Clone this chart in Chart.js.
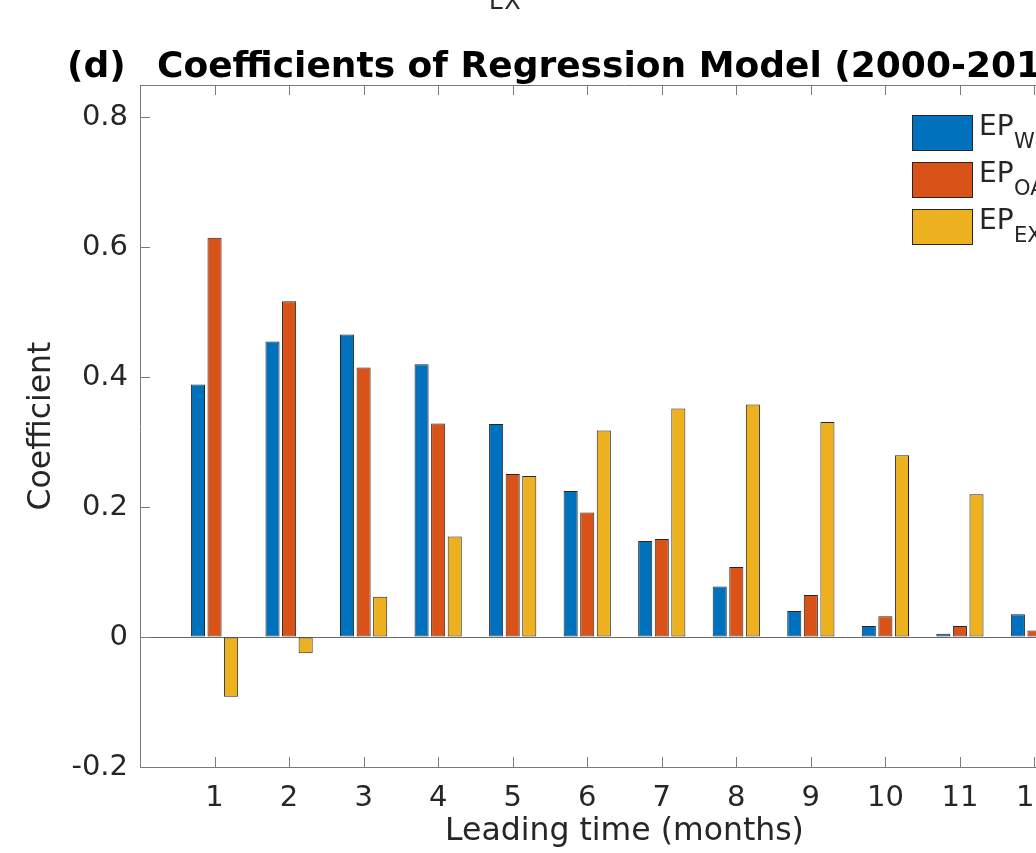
<!DOCTYPE html>
<html>
<head>
<meta charset="utf-8">
<script src="https://cdn.jsdelivr.net/npm/chart.js@4.4.1/dist/chart.umd.min.js"></script>
<style>
  html, body { margin: 0; padding: 0; background: #fff; overflow: hidden; }
  canvas { display: block; }
</style>
</head>
<body>
<canvas id="coefChart" width="1180" height="853"></canvas>
<script>
    // leading time in months
    const months = ['1', '2', '3', '4', '5', '6', '7', '8', '9', '10', '11', '12'];
    const seriesSubs = ['WP', 'OA', 'EX'];
    const epW  = [0.389, 0.455, 0.466, 0.420, 0.328, 0.225, 0.148, 0.078, 0.040, 0.017, 0.005, 0.035];
    const epOA = [0.615, 0.517, 0.415, 0.329, 0.251, 0.192, 0.151, 0.108, 0.065, 0.032, 0.017, 0.010];
    const epEX = [-0.092, -0.025, 0.062, 0.155, 0.248, 0.318, 0.352, 0.358, 0.331, 0.280, 0.220, 0.170];
    const yTicks = [-0.2, 0, 0.2, 0.4, 0.6, 0.8];

    const colors = ['#0072BD', '#D95319', '#EDB120'];
    const axisColor = '#7a7a7a';
    const textColor = '#262626';
    const fontFamily = "'DejaVu Sans', sans-serif";

    // pad an empty slot at both ends so the axis runs 0..13
    const labels = ['', ...months, ''];
    const pad = arr => [null, ...arr, null];

    const decorations = {
        id: 'decorations',
        afterDraw(chart) {
            const c = chart.ctx;
            const area = chart.chartArea;
            const xs = chart.scales.x;
            const ys = chart.scales.y;
            c.save();

            // box top/right and inward tick marks
            c.strokeStyle = axisColor;
            c.lineWidth = 1;
            c.beginPath();
            c.moveTo(area.left, area.top + 0.5);
            c.lineTo(area.right, area.top + 0.5);
            c.lineTo(area.right - 0.5, area.bottom);
            months.forEach((m, i) => {
                const px = Math.round(xs.getPixelForValue(i + 1)) + 0.5;
                c.moveTo(px, area.bottom);
                c.lineTo(px, area.bottom - 10);
                c.moveTo(px, area.top);
                c.lineTo(px, area.top + 10);
            });
            yTicks.forEach(v => {
                const py = Math.round(ys.getPixelForValue(v)) + 0.5;
                c.moveTo(area.left, py);
                c.lineTo(area.left + 10, py);
                c.moveTo(area.right, py);
                c.lineTo(area.right - 10, py);
            });
            c.stroke();

            // titles
            c.fillStyle = '#000';
            c.textBaseline = 'alphabetic';
            c.font = "bold 36px " + fontFamily;
            c.fillText('(d)', 67, 77);
            c.fillText('Coefficients of Regression Model (2000-2018)', 157, 77);

            // subscript left over from the panel above
            c.fillStyle = textColor;
            c.font = "24px " + fontFamily;
            c.fillText('EX', 489, 9);

            // legend with subscripts
            seriesSubs.forEach((s, i) => {
                const top = 115 + 47 * i;
                c.fillStyle = colors[i];
                c.fillRect(912, top, 61, 36);
                c.strokeStyle = '#262626';
                c.strokeRect(912.5, top + 0.5, 60, 35);
                c.fillStyle = textColor;
                c.font = "28px " + fontFamily;
                c.fillText('EP', 979, top + 20);
                c.font = "21px " + fontFamily;
                c.fillText(s, 1014, top + 33);
            });
            c.restore();
        }
    };

    new Chart(document.getElementById('coefChart').getContext('2d'), {
        type: 'bar',
        data: {
            labels: labels,
            datasets: [epW, epOA, epEX].map((d, i) => ({
                label: 'EP' + seriesSubs[i],
                data: pad(d),
                backgroundColor: colors[i],
                borderColor: '#262626',
                borderWidth: 1,
                borderSkipped: false,
                categoryPercentage: 0.667,
                barPercentage: 0.85
            }))
        },
        options: {
            responsive: false,
            animation: false,
            layout: { padding: { top: 85, right: 71, left: 0, bottom: 0 } },
            plugins: {
                legend: { display: false },
                tooltip: { enabled: false }
            },
            scales: {
                x: {
                    type: 'category',
                    offset: false,
                    afterFit: scale => { scale.height = 86; },
                    grid: { drawOnChartArea: false, drawTicks: false },
                    border: { display: true, color: axisColor, width: 1 },
                    ticks: {
                        autoSkip: false,
                        maxRotation: 0,
                        padding: 14,
                        color: textColor,
                        font: { family: fontFamily, size: 29 }
                    },
                    title: {
                        display: true,
                        text: 'Leading time (months)',
                        color: textColor,
                        font: { family: fontFamily, size: 31.5 },
                        padding: { top: 0, bottom: 2 }
                    }
                },
                y: {
                    min: -0.2,
                    max: 0.85,
                    afterFit: scale => { scale.width = 140; },
                    afterBuildTicks: scale => { scale.ticks = yTicks.map(v => ({ value: v })); },
                    grid: {
                        drawTicks: false,
                        color: c => (c.tick && c.tick.value === 0 ? '#6a6a6a' : 'rgba(0,0,0,0)')
                    },
                    border: { display: true, color: axisColor, width: 1 },
                    ticks: {
                        padding: 12,
                        color: textColor,
                        font: { family: fontFamily, size: 29 },
                        callback: v => (v === 0 ? '0' : v.toFixed(1))
                    },
                    title: {
                        display: true,
                        text: 'Coefficient',
                        color: textColor,
                        font: { family: fontFamily, size: 31.5 },
                        padding: { top: 23, bottom: 0 }
                    }
                }
            }
        },
        plugins: [decorations]
    });
</script>
</body>
</html>
